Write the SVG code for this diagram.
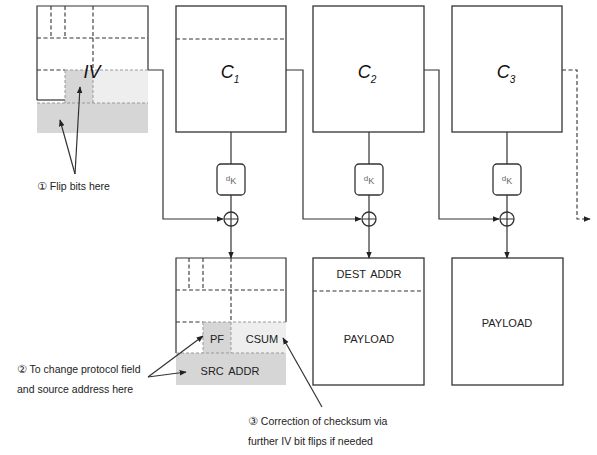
<svg xmlns="http://www.w3.org/2000/svg" width="597" height="455" viewBox="0 0 597 455">
<defs>
<marker id="ah" viewBox="0 0 10 10" refX="9" refY="5" markerWidth="7" markerHeight="7" markerUnits="userSpaceOnUse" orient="auto"><path d="M0,1 L10,5 L0,9 z" fill="#222"/></marker>
</defs>
<style>
.box{fill:#fff;stroke:#333;stroke-width:1.3}
.ln{fill:none;stroke:#333;stroke-width:1.2}
.dl{fill:none;stroke:#333;stroke-width:1.1;stroke-dasharray:4,2.5}
.gd{fill:none;stroke:#999;stroke-width:1;stroke-dasharray:3,2}
.dark{fill:#d6d6d6}
.light{fill:#eeeeee}
.t{font-family:"Liberation Sans",Arial,sans-serif;fill:#222}
.cd{font-family:"DejaVu Sans",sans-serif}
.ci{font-family:"Liberation Sans",Arial,sans-serif;font-style:italic;fill:#111}
.dk{font-family:"Liberation Sans",Arial,sans-serif;fill:#666}
</style>
<rect width="597" height="455" fill="#fff"/>

<g id="iv-block">
<rect x="37" y="103" width="111" height="30" class="dark"/>
<rect x="65" y="70" width="28" height="33" class="dark"/>
<rect x="93" y="70" width="55" height="33" class="light"/>
<path d="M37,100 L37,6 L148,6 L148,70" class="ln"/>
<path d="M37,100 L65,100" class="ln"/>
<path d="M51,6 V38 M65,6 V38 M93,6 V38 M37,38 H148 M93,38 V70 M37,70 H65" class="dl"/>
<path d="M65,70 H148 M65,70 V103 M93,70 V103 M37,103 H148" class="gd"/>
<text x="92" y="78" class="ci" font-size="18" text-anchor="middle">IV</text>
</g>

<g id="c1">
<rect x="176" y="6" width="110" height="126" class="box"/>
<path d="M176,39 H286" class="dl"/>
<text x="230" y="78" class="ci" font-size="18" text-anchor="middle">C<tspan font-size="10" dy="5">1</tspan></text>
</g>
<g id="c2">
<rect x="313" y="6" width="111" height="126" class="box"/>
<text x="367" y="78" class="ci" font-size="18" text-anchor="middle">C<tspan font-size="10" dy="5">2</tspan></text>
</g>
<g id="c3">
<rect x="452" y="6" width="110" height="126" class="box"/>
<text x="506" y="78" class="ci" font-size="18" text-anchor="middle">C<tspan font-size="10" dy="5">3</tspan></text>
</g>

<g id="dk1">
<rect x="217" y="164" width="28" height="31" rx="4" class="box"/>
<text x="231" y="184" class="dk" text-anchor="middle"><tspan font-size="8" dy="-3">d</tspan><tspan font-size="9" dy="3">K</tspan></text>
</g>
<g id="dk2">
<rect x="355" y="164" width="28" height="31" rx="4" class="box"/>
<text x="369" y="184" class="dk" text-anchor="middle"><tspan font-size="8" dy="-3">d</tspan><tspan font-size="9" dy="3">K</tspan></text>
</g>
<g id="dk3">
<rect x="493" y="164" width="28" height="31" rx="4" class="box"/>
<text x="507" y="184" class="dk" text-anchor="middle"><tspan font-size="8" dy="-3">d</tspan><tspan font-size="9" dy="3">K</tspan></text>
</g>

<g id="xor1"><circle cx="231" cy="219" r="7" class="box"/><path d="M224,219 H238 M231,212 V226" class="ln"/></g>
<g id="xor2"><circle cx="369" cy="219" r="7" class="box"/><path d="M362,219 H376 M369,212 V226" class="ln"/></g>
<g id="xor3"><circle cx="507" cy="219" r="7" class="box"/><path d="M500,219 H514 M507,212 V226" class="ln"/></g>

<g id="p1">
<rect x="176" y="353" width="110" height="32" class="dark"/>
<rect x="203" y="322" width="28" height="31" class="dark"/>
<rect x="231" y="322" width="55" height="31" class="light"/>
<path d="M176,353 L176,258 L286,258 L286,322" class="ln"/>
<path d="M189,258 V290 M203,258 V290 M231,258 V290 M176,290 H286 M231,290 V322 M176,322 H203" class="dl"/>
<path d="M203,322 H286 M203,322 V353 M231,322 V353 M176,353 H286" class="gd"/>
<text x="217" y="343" class="t" font-size="11" text-anchor="middle">PF</text>
<text x="262" y="343" class="t" font-size="11" text-anchor="middle">CSUM</text>
<text x="230" y="375" class="t" font-size="11" text-anchor="middle" word-spacing="2">SRC ADDR</text>
</g>

<g id="p2">
<rect x="313" y="258" width="111" height="127" class="box"/>
<path d="M313,291 H423" class="dl"/>
<text x="369" y="278" class="t" font-size="11" text-anchor="middle" word-spacing="2">DEST ADDR</text>
<text x="369" y="343" class="t" font-size="11" text-anchor="middle">PAYLOAD</text>
</g>
<g id="p3">
<rect x="452" y="258" width="111" height="127" class="box"/>
<text x="507" y="327" class="t" font-size="11" text-anchor="middle">PAYLOAD</text>
</g>

<g id="connectors">
<path d="M148,70 H163 V219 H223" class="ln" marker-end="url(#ah)"/>
<path d="M286,70 H303 V219 H361" class="ln" marker-end="url(#ah)"/>
<path d="M424,70 H439 V219 H499" class="ln" marker-end="url(#ah)"/>
<path d="M562,70 H577 V219 H590" class="dl" marker-end="url(#ah)"/>
<path d="M231,132 V164 M231,195 V212" class="ln"/>
<path d="M369,132 V164 M369,195 V212" class="ln"/>
<path d="M507,132 V164 M507,195 V212" class="ln"/>
<path d="M231,226 V258" class="ln" marker-end="url(#ah)"/>
<path d="M369,226 V258" class="ln" marker-end="url(#ah)"/>
<path d="M507,226 V258" class="ln" marker-end="url(#ah)"/>
<path d="M75,174 L80,87" class="ln" marker-end="url(#ah)"/>
<path d="M75,174 L60,120" class="ln" marker-end="url(#ah)"/>
<path d="M148,377 L203,336" class="ln" marker-end="url(#ah)"/>
<path d="M148,377 L186,372" class="ln" marker-end="url(#ah)"/>
<path d="M322,407 L283,338" class="ln" marker-end="url(#ah)"/>
</g>

<g id="labels">
<text x="37" y="190" class="t" font-size="10.5"><tspan class="cd" font-size="11">①</tspan> Flip bits here</text>
<text x="17" y="373" class="t" font-size="10.5"><tspan class="cd" font-size="11">②</tspan> To change protocol field</text>
<text x="17" y="393" class="t" font-size="10.5">and source address here</text>
<text x="248" y="425" class="t" font-size="10.5"><tspan class="cd" font-size="11">③</tspan> Correction of checksum via</text>
<text x="248" y="445" class="t" font-size="10.5">further IV bit flips if needed</text>
</g>
</svg>
